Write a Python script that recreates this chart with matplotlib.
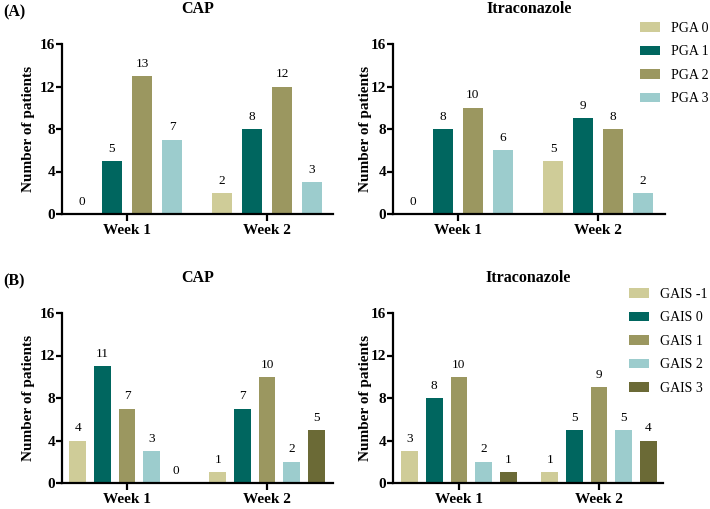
import matplotlib
matplotlib.use("Agg")
import matplotlib.pyplot as plt
import numpy as np
from matplotlib.patches import Patch

plt.rcParams['font.family'] = ['Liberation Serif', 'DejaVu Serif']

weeks = ["Week 1", "Week 2"]

pga_labels = ["PGA 0", "PGA 1", "PGA 2", "PGA 3"]
pga_cap = [[0, 5, 13, 7], [2, 8, 12, 3]]          # [week][grade]
pga_itra = [[0, 8, 10, 6], [5, 9, 8, 2]]

gais_labels = ["GAIS -1", "GAIS 0", "GAIS 1", "GAIS 2", "GAIS 3"]
gais_cap = [[4, 11, 7, 3, 0], [1, 7, 10, 2, 5]]
gais_itra = [[3, 8, 10, 2, 1], [1, 5, 9, 5, 4]]

colors = ["#cfcc98", "#00665f", "#9b9760", "#9ccccd", "#6b6a36"]

fig = plt.figure(figsize=(7.10, 5.09), dpi=100)
W, H = 710, 509

def add_ax(left, right, top, bottom):
    return fig.add_axes([left / W, 1 - bottom / H, (right - left) / W, (bottom - top) / H])

def draw(ax, data, labels, pitch, width, xlim, title, ylab_off, axw):
    n = len(labels)
    x = np.arange(len(weeks))
    for i in range(n):
        vals = [data[w][i] for w in range(len(weeks))]
        off = (i - (n - 1) / 2) * pitch
        bars = ax.bar(x + off, vals, width=width, color=colors[i], label=labels[i])
        ax.bar_label(bars, labels=[str(v) for v in vals], padding=4.5, fontsize=9.5)
    ax.set_xlim(*xlim)
    ax.set_ylim(0, 16)
    ax.set_yticks([0, 4, 8, 12, 16])
    ax.set_xticks(x)
    ax.set_xticklabels(weeks, fontweight='bold', fontsize=11)
    for lab in ax.get_yticklabels():
        lab.set_fontweight('bold')
        lab.set_fontsize(11)
    ax.spines['top'].set_visible(False)
    ax.spines['right'].set_visible(False)
    ax.spines['left'].set_linewidth(1.6)
    ax.spines['bottom'].set_linewidth(1.6)
    ax.tick_params(axis='y', width=1.6, length=4, pad=1)
    ax.tick_params(axis='x', width=1.6, length=5, pad=2)
    ax.set_ylabel("Number of patients", fontweight='bold', fontsize=11)
    ax.yaxis.set_label_coords(ylab_off / axw, 0.5)
    ax.set_title(title, fontweight='bold', fontsize=11.5, pad=22)

# Panel A
ax1 = add_ax(62, 333, 44, 214)
draw(ax1, pga_cap, pga_labels, 0.214, 0.143, (-0.464, 1.471), "CAP", -27, 271)
ax2 = add_ax(393, 665, 44, 214)
draw(ax2, pga_itra, pga_labels, 0.214, 0.143, (-0.464, 1.479), "Itraconazole", -21, 272)

# Panel B
ax3 = add_ax(62, 333, 313, 483)
draw(ax3, gais_cap, gais_labels, 0.176, 0.12, (-0.464, 1.471), "CAP", -27, 271)
ax4 = add_ax(393, 663, 313, 483)
draw(ax4, gais_itra, gais_labels, 0.176, 0.12, (-0.471, 1.457), "Itraconazole", -21, 270)

fig.text(3 / W, 1 - 16 / H, "(A)", fontweight='bold', fontsize=11.5)
fig.text(3 / W, 1 - 285 / H, "(B)", fontweight='bold', fontsize=11.5)

def legend(labels, x, y):
    handles = [Patch(facecolor=colors[i], label=labels[i]) for i in range(len(labels))]
    fig.legend(handles=handles, loc='upper left', bbox_to_anchor=(x / W, 1 - y / H),
               frameon=False, fontsize=10, handlelength=1.45, handleheight=0.7,
               labelspacing=0.75, handletextpad=0.75, borderpad=0, borderaxespad=0)

legend(pga_labels, 640, 22)
legend(gais_labels, 629, 288)

fig.savefig("out.png", dpi=100)
